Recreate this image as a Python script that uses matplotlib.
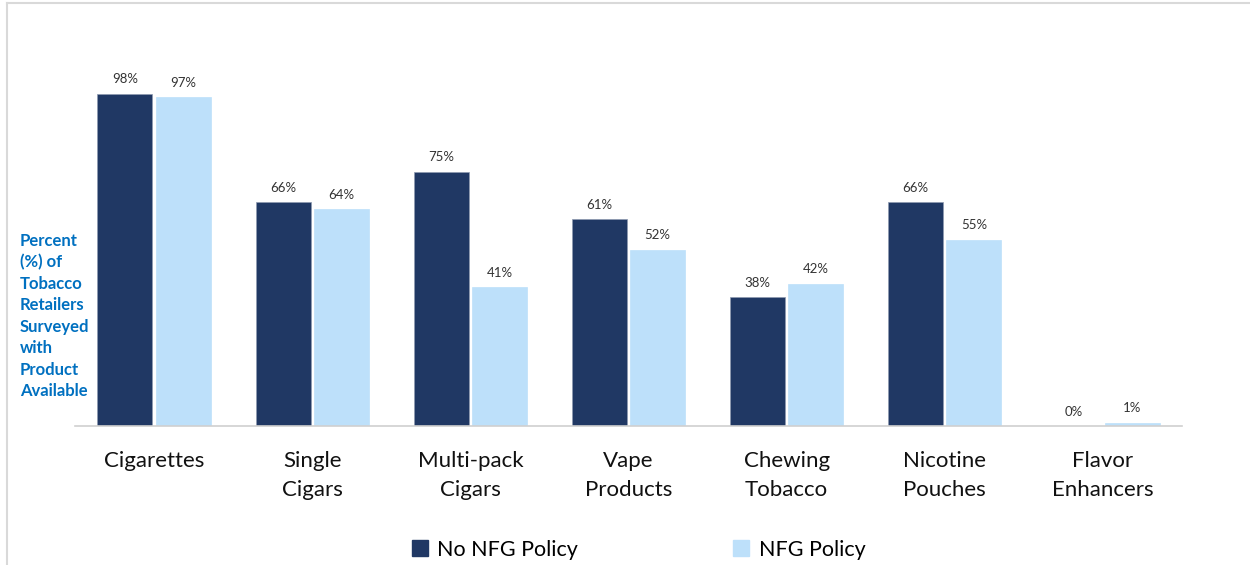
import matplotlib.pyplot as plt
import numpy as np
from matplotlib.lines import Line2D

categories = ["Cigarettes", "Single\nCigars", "Multi-pack\nCigars", "Vape\nProducts",
              "Chewing\nTobacco", "Nicotine\nPouches", "Flavor\nEnhancers"]
no_nfg = [98, 66, 75, 61, 38, 66, 0]
nfg = [97, 64, 41, 52, 42, 55, 1]
series_names = ["No NFG Policy", "NFG Policy"]

dark = "#203864"
light = "#BDE0FA"

plt.rcParams['font.family'] = ['Lato', 'DejaVu Sans']

W, H = 1250, 565
fig = plt.figure(figsize=(W / 100, H / 100), dpi=100)

# axes placed in pixel coords: x 75..1182, baseline y=426, 1% = 3.39 px
ymax = 115
ax_left, ax_right, base_y = 75, 1182, 426
ax_top = base_y - ymax * 3.39
ax = fig.add_axes([ax_left / W, 1 - base_y / H, (ax_right - ax_left) / W, (base_y - ax_top) / H])

x = np.arange(len(categories))
w = 0.348
off = 0.184
b1 = ax.bar(x - off, no_nfg, w, color=dark, edgecolor="#8E9AB0", linewidth=0.5)
b2 = ax.bar(x + off, nfg, w, color=light, edgecolor=light, linewidth=0.5)

for bars, vals in ((b1, no_nfg), (b2, nfg)):
    for rect, v in zip(bars, vals):
        ax.annotate(f"{v}%", (rect.get_x() + rect.get_width() / 2, v),
                    xytext=(0, 6), textcoords="offset points",
                    ha="center", va="bottom", fontsize=9.5, color="#333333")

ax.set_xlim(-0.5, len(categories) - 0.5)
ax.set_ylim(0, ymax)
ax.set_yticks([])
ax.set_xticks(x)
ax.set_xticklabels(categories, fontsize=16, color="#111111", linespacing=1.55)
ax.tick_params(axis="x", length=0, pad=18)
for s in ("top", "right", "left"):
    ax.spines[s].set_visible(False)
ax.spines["bottom"].set_color("#D0D0D0")
ax.spines["bottom"].set_linewidth(1.2)

fig.text(20 / W, 1 - 316 / H,
         "Percent\n(%) of\nTobacco\nRetailers\nSurveyed\nwith\nProduct\nAvailable",
         ha="left", va="center", fontsize=12, fontweight="bold", color="#0070C0",
         linespacing=1.42)

# legend
handles = [Line2D([], [], marker="s", linestyle="none", markersize=11, color=dark),
           Line2D([], [], marker="s", linestyle="none", markersize=11, color=light)]
fig.legend(handles, series_names, loc="center", bbox_to_anchor=(636 / W, 1 - 550 / H),
           ncol=2, frameon=False, fontsize=15.5, columnspacing=7.0, handletextpad=0.2,
           handlelength=1.2)

# chart frame
fig.add_artist(Line2D([7 / W, 7 / W], [0, 1 - 3 / H], color="#D9D9D9", lw=1.5))
fig.add_artist(Line2D([7 / W, 1], [1 - 3 / H, 1 - 3 / H], color="#D9D9D9", lw=1.5))

fig.savefig("out.png", dpi=100)
